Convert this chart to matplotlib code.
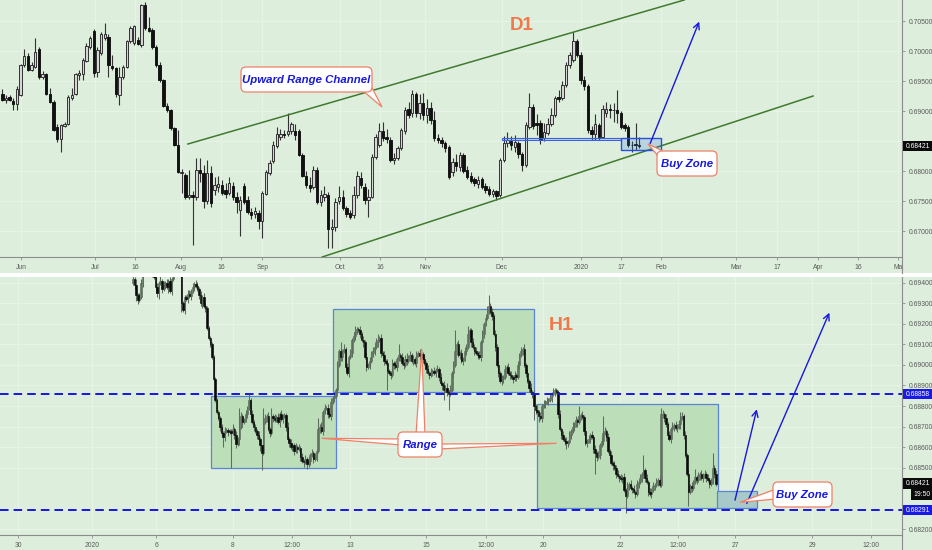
import numpy as np
import matplotlib
matplotlib.use('Agg')
import matplotlib.pyplot as plt
from matplotlib.patches import Rectangle, FancyBboxPatch, Polygon

plt.rcParams['font.family'] = ['Liberation Sans', 'DejaVu Sans']

# ---------------- D1 (daily) candles, May 27 2019 -> Jan 24 2020 ----------------
d1_open = [
 .6928,.6918,.6924,.6917,.6912,.6927,.6977,.6992,.6968,.6974,
 .7004,.6956,.6962,.6928,.6915,.6874,.6853,.6875,.6879,.6921,
 .6929,.6960,.6962,.6984,.7007,.7033,.6965,.6996,.7021,.7023,
 .6975,.6971,.6927,.6957,.6974,.7016,.7013,.7019,.7010,.7077,
 .7038,.7035,.7007,.6977,.6952,.6908,.6902,.6871,.6843,.6796,
 .6793,.6756,.6760,.6756,.6802,.6796,.6750,.6796,.6768,.6774,
 .6777,.6768,.6763,.6775,.6757,.6735,.6775,.6752,.6732,.6728,
 .6730,.6716,.6762,.6796,.6816,.6841,.6857,.6862,.6862,.6866,
 .6866,.6866,.6827,.6792,.6777,.6774,.6802,.6749,.6757,.6760,
 .6704,.6706,.6750,.6756,.6738,.6730,.6726,.6760,.6788,.6774,
 .6752,.6757,.6824,.6843,.6867,.6857,.6852,.6818,.6821,.6838,
 .6866,.6904,.6896,.6929,.6897,.6913,.6893,.6905,.6885,.6855,
 .6852,.6846,.6840,.6798,.6815,.6806,.6826,.6802,.6792,.6786,
 .6778,.6786,.6775,.6770,.6762,.6766,.6760,.6818,.6846,.6850,
 .6840,.6846,.6828,.6810,.6874,.6907,.6880,.6880,.6855,.6864,
 .6878,.6893,.6924,.6921,.6943,.6977,.6985,.7016,.6993,.6952,
 .6941,.6868,.6862,.6877,.6857,.6897,.6903,.6901,.6902,.6896,
 .6876,.6874,.6844,.6845,.6843]
d1_high = [
 .6936,.6927,.6927,.6921,.6942,.6979,.7004,.6996,.6982,.7021,
 .7007,.6966,.6964,.6939,.6918,.6879,.6879,.6882,.6927,.6938,
 .6964,.6968,.6988,.7013,.7025,.7036,.7007,.7032,.7047,.7029,
 .6993,.6974,.6974,.6977,.7018,.7041,.7043,.7024,.7078,.7082,
 .7057,.7038,.7010,.6982,.6954,.6913,.6904,.6874,.6868,.6804,
 .6796,.6802,.6766,.6821,.6821,.6810,.6818,.6808,.6790,.6792,
 .6785,.6780,.6790,.6782,.6765,.6758,.6780,.6758,.6738,.6740,
 .6735,.6766,.6802,.6818,.6850,.6874,.6870,.6868,.6896,.6882,
 .6878,.6870,.6830,.6800,.6790,.6808,.6806,.6768,.6775,.6765,
 .6720,.6755,.6775,.6768,.6742,.6735,.6775,.6800,.6798,.6780,
 .6770,.6828,.6862,.6880,.6882,.6870,.6856,.6830,.6842,.6872,
 .6906,.6915,.6935,.6932,.6928,.6930,.6920,.6915,.6900,.6862,
 .6856,.6850,.6843,.6822,.6828,.6832,.6830,.6808,.6798,.6790,
 .6792,.6790,.6780,.6775,.6770,.6768,.6822,.6858,.6865,.6858,
 .6860,.6850,.6832,.6882,.6930,.6912,.6895,.6885,.6880,.6888,
 .6905,.6925,.6935,.6950,.6982,.6998,.7032,.7020,.6998,.6958,
 .6945,.6875,.6895,.6880,.6910,.6915,.6912,.6914,.6935,.6900,
 .6880,.6877,.6850,.6880,.6856]
d1_low = [
 .6916,.6914,.6916,.6902,.6902,.6925,.6974,.6966,.6966,.6971,
 .6954,.6954,.6927,.6913,.6867,.6849,.6832,.6873,.6877,.6918,
 .6927,.6952,.6952,.6982,.7004,.6956,.6956,.6993,.7019,.6957,
 .6968,.6924,.6910,.6954,.6971,.7013,.7010,.7010,.7007,.7035,
 .7032,.7004,.6974,.6949,.6907,.6899,.6868,.6841,.6796,.6763,
 .6754,.6754,.6677,.6752,.6782,.6738,.6745,.6740,.6760,.6765,
 .6760,.6755,.6760,.6752,.6730,.6691,.6745,.6728,.6720,.6722,
 .6703,.6688,.6760,.6793,.6813,.6838,.6852,.6855,.6858,.6862,
 .6852,.6825,.6790,.6772,.6765,.6770,.6745,.6742,.6750,.6671,
 .6671,.6700,.6745,.6735,.6724,.6720,.6722,.6755,.6772,.6745,
 .6724,.6755,.6820,.6840,.6850,.6846,.6815,.6812,.6818,.6835,
 .6862,.6888,.6890,.6890,.6887,.6885,.6880,.6878,.6850,.6846,
 .6840,.6832,.6786,.6792,.6800,.6800,.6796,.6786,.6780,.6775,
 .6772,.6770,.6764,.6758,.6756,.6752,.6756,.6815,.6840,.6835,
 .6832,.6822,.6800,.6806,.6870,.6870,.6860,.6845,.6850,.6860,
 .6875,.6890,.6915,.6918,.6940,.6972,.6982,.6990,.6945,.6935,
 .6864,.6852,.6852,.6852,.6855,.6890,.6888,.6882,.6880,.6870,
 .6866,.6840,.6832,.6835,.6838]
d1_close = [
 .6918,.6922,.6918,.6912,.6936,.6977,.6991,.6968,.6977,.6998,
 .6957,.6962,.6928,.6915,.6869,.6853,.6877,.6879,.6924,.6927,
 .6962,.6964,.6985,.7008,.7021,.6964,.7002,.7029,.7029,.6977,
 .6971,.6928,.6957,.6974,.7016,.7038,.7041,.7012,.7077,.7038,
 .7034,.7007,.6977,.6952,.6908,.6902,.6871,.6843,.6798,.6799,
 .6756,.6760,.6756,.6802,.6796,.6750,.6796,.6746,.6776,.6778,
 .6764,.6762,.6780,.6757,.6749,.6752,.6749,.6732,.6727,.6734,
 .6716,.6763,.6799,.6814,.6843,.6862,.6862,.6860,.6867,.6879,
 .6860,.6827,.6792,.6777,.6771,.6802,.6749,.6760,.6762,.6704,
 .6707,.6749,.6756,.6738,.6728,.6724,.6760,.6791,.6777,.6752,
 .6756,.6824,.6857,.6867,.6855,.6853,.6818,.6821,.6838,.6868,
 .6902,.6893,.6929,.6897,.6913,.6893,.6905,.6885,.6855,.6852,
 .6846,.6838,.6790,.6815,.6808,.6826,.6800,.6790,.6784,.6780,
 .6785,.6774,.6768,.6762,.6766,.6758,.6818,.6846,.6852,.6843,
 .6848,.6828,.6810,.6877,.6907,.6875,.6876,.6852,.6865,.6879,
 .6893,.6921,.6920,.6943,.6977,.6993,.7016,.6993,.6952,.6941,
 .6868,.6862,.6879,.6857,.6904,.6904,.6902,.6902,.6896,.6874,
 .6872,.6843,.6843,.6843,.6842]

d1_tick_labels = ['Jun', 'Jul', '16', 'Aug', '16', 'Sep', 'Oct', '16', 'Nov', 'Dec',
                  '2020', '17', 'Feb', 'Mar', '17', 'Apr', '16', 'Ma']
d1_tick_bars = [5.2, 25.3, 36.3, 48.8, 59.7, 71.0, 92.3, 103.2, 115.5, 136.5,
                158.1, 169.0, 180.0, 200.5, 211.7, 222.9, 233.8, 244.7]
d1_price_ticks = [0.670, 0.675, 0.680, 0.685, 0.690, 0.695, 0.700, 0.705]
d1_hidden_price_labels = [0.685]   # covered by the last-price tag in the reference

# ---------------- H1 candles (closes in 1e-5 above 0.68000) ----------------
h1_close_pts = [
 1420,1390,1340,1315,1330,1400,1460,1490,1510,1500,
 1480,1470,1450,1430,1380,1350,1400,1410,1370,1390,
 1400,1380,1410,1360,1420,1460,1480,1500,1490,1470,
 1300,1270,1330,1320,1345,1335,1360,1380,1395,1385,
 1370,1340,1300,1330,1290,1280,1180,1130,1100,1040,
 930,830,770,740,700,670,650,680,685,675,
 680,670,690,660,615,640,700,750,720,730,
 760,790,830,760,720,700,680,660,640,610,
 570,720,740,750,690,670,750,740,730,745,
 720,760,735,750,755,700,640,620,600,610,
 580,600,590,595,550,530,525,540,515,530,
 560,570,540,550,580,690,700,680,770,790,
 790,760,750,820,840,850,880,1000,1070,1040,
 1070,1080,990,960,1040,1060,1120,1140,1160,1175,
 1170,1150,1120,1110,1040,990,1000,1020,1060,1070,
 1090,1110,1120,1130,1060,1050,1020,1010,970,960,
 950,1010,1000,990,1030,1050,1040,1010,1000,1030,
 1020,1040,1050,1020,1030,1010,1050,1060,1045,1055,
 1030,1010,980,960,950,965,970,960,975,980,
 940,910,900,880,890,870,860,880,960,1000,
 1070,1100,1050,1060,1020,1030,1070,1090,1150,1170,
 1110,1090,1070,1060,1050,1040,1110,1150,1200,1230,
 1270,1290,1260,1240,1150,1090,1000,960,920,930,
 940,980,990,960,950,940,930,950,940,1000,
 1050,1070,1080,1000,960,920,890,870,860,800,
 780,770,750,740,800,810,820,825,830,840,
 860,870,880,870,760,690,660,640,630,620,
 625,660,680,700,710,730,720,750,755,745,
 680,620,630,640,660,650,590,570,550,560,
 610,630,670,680,650,580,560,520,510,500,
 470,460,450,445,455,390,360,410,420,400,
 395,380,370,420,430,450,470,490,450,430,
 380,370,390,410,415,430,440,415,760,760,
 740,710,660,640,690,700,705,695,700,710,
 740,750,660,560,470,380,410,400,430,455,
 440,460,470,450,465,470,450,440,420,430,
 500,470,421]
h1_first_open_pts = 1400
# wick lengths per candle, one base-36 digit each, in units of 0.0001
h1_upper_wick = ("2131221121" "1212121312" "1212121112" "1111221212" "2121211111"
                 "1111111211" "1121219211" "2131211121" "0721214121" "2121112121"
                 "1212121212" "1212151212" "1212121214" "1212121231" "1212121212"
                 "1231212121" "1212151212" "3121212121" "1212121212" "1212121212"
                 "a121212141" "1212121212" "2512121212" "1212121212" "1212121212"
                 "1212121212" "1211121212" "1212121512" "1212121212" "1282121212"
                 "1212121212" "1212121712" "1212121232" "1212121212" "3212121214"
                 "1212121212" "712")
h1_lower_wick = ("1232112112" "1221323121" "2131211211" "4121212121" "1212121111"
                 "1111215212" "1h12213121" "1212121213" "8112121211" "1212121212"
                 "2121212121" "2121212121" "1212121212" "2121212121" "1212121212"
                 "2121212191" "2121212121" "2121212121" "2121212121" "2125128112"
                 "1212121212" "2121212121" "1212121212" "2121212121" "2121212127"
                 "2131212121" "2121212123" "2121212121" "2121212a21" "2121212121"
                 "2121218121" "2121212121" "2121212112" "2121212121" "2121171211"
                 "2121212121" "121")

h1_tick_labels = ['30', '2020', '6', '8', '12:00', '13', '15', '12:00', '20', '22',
                  '12:00', '27', '29', '12:00']
h1_tick_bars = [-71.4, -25.5, 14.3, 62.1, 98.8, 134.8, 182.0, 219.3, 254.7, 302.5,
                338.5, 373.9, 421.7, 458.4]
h1_price_ticks = [0.682, 0.685, 0.686, 0.687, 0.688, 0.689, 0.690, 0.691,
                  0.692, 0.693, 0.694]

# ---------------- styling ----------------
BG = '#ddeedc'
GRID = '#e7f3e5'
AXC = '#8c8c8c'
TXT = '#5a5a5a'
BLUE = '#1717e0'
SAL = '#f08068'
ORANGE = '#f2784b'
CH = '#3f7a2e'

fig = plt.figure(figsize=(9.32, 5.5), dpi=100)
fig.patch.set_facecolor(BG)
ax1 = fig.add_axes([0, 293 / 550, 902 / 932, 257 / 550])
ax2 = fig.add_axes([0, 15 / 550, 902 / 932, 258 / 550])


def draw_candles(ax, o, h, l, c, width, up_fc, up_ec, dn_fc, wick_c, wick_lw, min_h, body_lw):
    o, h, l, c = map(np.asarray, (o, h, l, c))
    x = np.arange(len(o))
    ax.vlines(x, l, h, color=wick_c, lw=wick_lw, zorder=3)
    up = c >= o
    height = np.abs(c - o)
    bottom = np.minimum(o, c)
    small = height < min_h
    bottom = np.where(small, (o + c) / 2 - min_h / 2, bottom)
    height = np.maximum(height, min_h)
    ax.bar(x[up], height[up], width, bottom[up], color=up_fc, edgecolor=up_ec,
           linewidth=body_lw, zorder=4)
    ax.bar(x[~up], height[~up], width, bottom[~up], color=dn_fc, edgecolor=dn_fc,
           linewidth=body_lw, zorder=4)


def style_axis(ax, xt, xl, yt, hidden=()):
    ax.set_facecolor(BG)
    for s in ('top', 'left'):
        ax.spines[s].set_visible(False)
    for s in ('right', 'bottom'):
        ax.spines[s].set_color(AXC)
        ax.spines[s].set_linewidth(0.8)
    ax.yaxis.tick_right()
    ax.set_yticks(yt)
    ax.set_yticklabels(['' if any(abs(v - hv) < 1e-9 for hv in hidden) else f'{v:.5f}'
                        for v in yt])
    ax.set_xticks(xt)
    ax.set_xticklabels(xl)
    ax.tick_params(axis='both', labelsize=4.9, colors=AXC, labelcolor=TXT,
                   length=2.5, width=0.6, pad=2.5)
    ax.grid(True, color=GRID, lw=0.8, zorder=0)
    ax.set_axisbelow(True)


# ---- top panel (D1)
draw_candles(ax1, d1_open, d1_high, d1_low, d1_close, 0.66, '#d6d6d6', '#262626',
             '#111111', '#333333', 0.8, 0.00012, 0.65)
ax1.set_xlim(-0.63, 245.8)
ax1.set_ylim(0.66567, 0.7085)
style_axis(ax1, d1_tick_bars, d1_tick_labels, d1_price_ticks, d1_hidden_price_labels)

# channel
ax1.plot([50.7, 186.3], [0.6845, 0.7085], color=CH, lw=1.1, zorder=5)
ax1.plot([87.4, 221.5], [0.66567, 0.6925], color=CH, lw=1.1, zorder=5)
# thin support zone + buy zone
ax1.add_patch(Rectangle((136.5, 0.68512), 32.5, 0.00043, fc=(0.25, 0.45, 1.0, 0.18),
                        ec='#3a62e0', lw=0.8, zorder=5))
ax1.add_patch(Rectangle((169.0, 0.6835), 11.0, 0.00195, fc=(0.2, 0.45, 0.85, 0.22),
                        ec='#2a50e0', lw=1.0, zorder=5))
ax1.annotate('', xy=(190.4, 0.7049), xytext=(177.0, 0.6846),
             arrowprops=dict(arrowstyle='->', color=BLUE, lw=1.0, mutation_scale=11,
                             shrinkA=0, shrinkB=0), zorder=6)

# ---- bottom panel (H1)
h1_close = 0.68 + np.array(h1_close_pts) / 1e5
h1_open = np.concatenate([[0.68 + h1_first_open_pts / 1e5], h1_close[:-1]])
up_w = np.array([int(ch, 36) for ch in h1_upper_wick]) * 1e-4
lo_w = np.array([int(ch, 36) for ch in h1_lower_wick]) * 1e-4
h1_high = np.maximum(h1_open, h1_close) + up_w
h1_low = np.minimum(h1_open, h1_close) - lo_w

# range boxes
for (x0, x1, y0, y1) in [(48.4, 126.1, 0.68498, 0.68849),
                         (124.4, 249.3, 0.68868, 0.69272),
                         (251.1, 363.2, 0.68304, 0.68808)]:
    ax2.add_patch(Rectangle((x0, y0), x1 - x0, y1 - y0, fc='#bcdfba', ec='#5b84d4',
                            lw=0.9, zorder=1.5))
ax2.add_patch(Rectangle((362.9, 0.68304), 24.9, 0.00081, fc='#a8c9c9', ec='#5b84d4',
                        lw=0.9, zorder=1.5))

draw_candles(ax2, h1_open, h1_high, h1_low, h1_close, 0.9, '#5f705f', '#5f705f',
             '#0a0a0a', '#5d6d5d', 0.75, 0.00004, 0.45)
ax2.set_xlim(-82.6, 477.6)
ax2.set_ylim(0.68171, 0.69429)
style_axis(ax2, h1_tick_bars, h1_tick_labels, h1_price_ticks)

for lvl in (0.68858, 0.68291):
    ax2.axhline(lvl, color=BLUE, lw=1.4, ls=(0, (4.4, 2.6)), zorder=6)
for (sx, sy, ex, ey) in [(373.9, 0.68341, 387.4, 0.68784), (381.2, 0.68325, 432.5, 0.69255)]:
    ax2.annotate('', xy=(ex, ey), xytext=(sx, sy),
                 arrowprops=dict(arrowstyle='->', color=BLUE, lw=1.0, mutation_scale=11,
                                 shrinkA=0, shrinkB=0), zorder=7)

# ---- overlay in pixel coordinates for callouts, labels and price tags
ov = fig.add_axes([0, 0, 1, 1], zorder=10)
ov.set_xlim(0, 932)
ov.set_ylim(550, 0)
ov.axis('off')
ov.patch.set_visible(False)

ov.add_patch(Rectangle((0, 273.2), 932, 3.4, fc='white', ec='none', zorder=1))
ov.plot([902, 902], [257, 273.2], color=AXC, lw=0.8)
ov.plot([902, 902], [535, 550], color=AXC, lw=0.8)


def callout(box, text, pointers, fs=8.2):
    x0, y0, x1, y1 = box
    for tip, b1, b2 in pointers:
        ov.add_patch(Polygon([b1, tip, b2], closed=True, fc='white', ec=SAL, lw=0.9,
                             zorder=20))
    ov.add_patch(FancyBboxPatch((x0, y0), x1 - x0, y1 - y0,
                                boxstyle='round,pad=0,rounding_size=5',
                                fc='white', ec=SAL, lw=0.9, zorder=21))
    ov.text((x0 + x1) / 2, (y0 + y1) / 2 + 0.5, text, ha='center', va='center',
            fontsize=fs, fontweight='bold', fontstyle='italic', color=BLUE, zorder=22)


callout((241, 67, 372, 92), 'Upward Range Channel', [((382, 107), (362, 90), (370, 84))])
callout((657, 151, 717, 176), 'Buy Zone', [((648, 144), (659, 157), (667, 153))])
callout((773, 482, 832, 507), 'Buy Zone', [((740, 502.3), (776, 489), (776, 499))])
callout((398, 432, 442, 457), 'Range', [((421.7, 348.7), (416, 435), (425, 435)),
                                        ((321.7, 438.3), (401, 439), (401, 445)),
                                        ((556.7, 443.3), (439, 444), (439, 449))])

ov.text(521.5, 25.5, 'D1', ha='center', va='center', fontsize=13.5, fontweight='bold',
        color=ORANGE)
ov.text(561.5, 325, 'H1', ha='center', va='center', fontsize=14, fontweight='bold',
        color=ORANGE)


def tag(y, text, fc, x0=903, w=29):
    ov.add_patch(Rectangle((x0, y - 5.2), w, 10.4, fc=fc, ec='none', zorder=30))
    ov.text(x0 + 2.5, y + 0.3, text, ha='left', va='center', fontsize=4.9,
            color='white', zorder=31)


tag(146, '0.68421', '#0b0b0b')
tag(394, '0.68858', '#1a1ae8')
tag(483.5, '0.68421', '#0b0b0b')
tag(494.5, '19:50', '#0b0b0b', x0=911, w=21)
tag(510, '0.68291', '#1a1ae8')

fig.savefig('out.png', dpi=100, facecolor=fig.get_facecolor())
